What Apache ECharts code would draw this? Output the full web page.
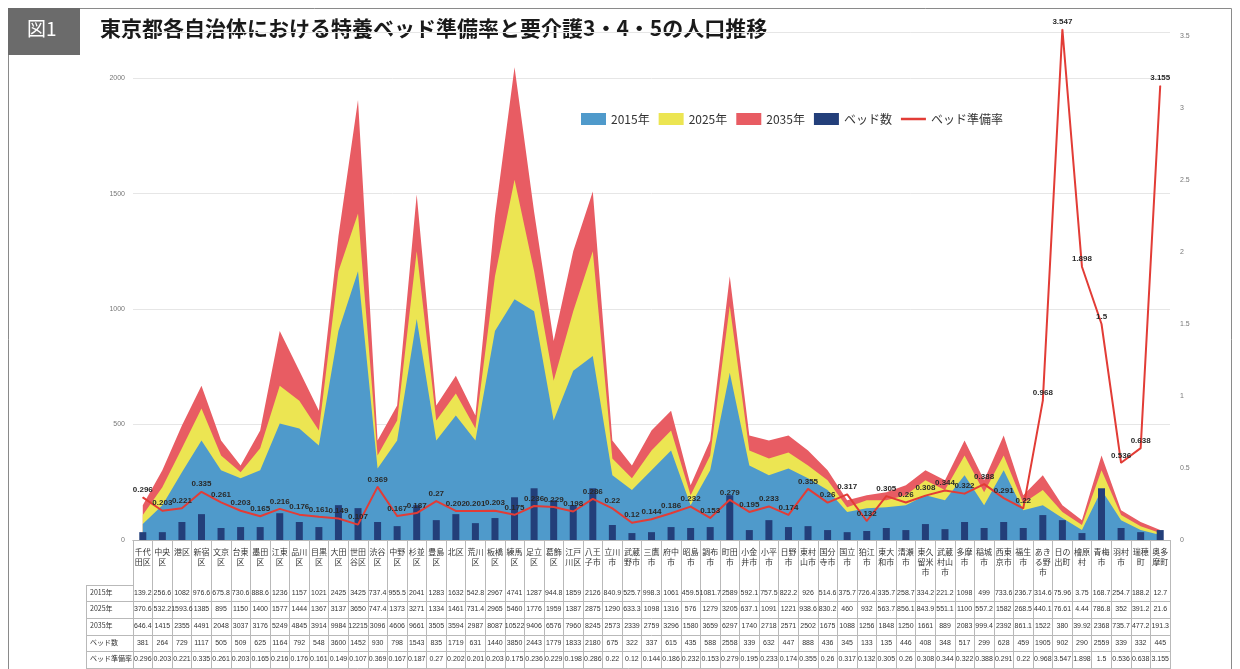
<!DOCTYPE html>
<html>
<head>
<meta charset="utf-8">
<script src="https://cdn.jsdelivr.net/npm/echarts@6/dist/echarts.min.js"></script>
<style>
  html, body { margin: 0; padding: 0; background: #fff; }
  #chart { width: 1240px; height: 669px; }
</style>
</head>
<body>
<div id="chart"></div>
<script>
const names = ['千代田区', '中央区', '港区', '新宿区', '文京区', '台東区', '墨田区', '江東区', '品川区', '目黒区',
  '大田区', '世田谷区', '渋谷区', '中野区', '杉並区', '豊島区', '北区', '荒川区', '板橋区', '練馬区',
  '足立区', '葛飾区', '江戸川区', '八王子市', '立川市', '武蔵野市', '三鷹市', '府中市', '昭島市', '調布市',
  '町田市', '小金井市', '小平市', '日野市', '東村山市', '国分寺市', '国立市', '狛江市', '東大和市', '清瀬市',
  '東久留米市', '武蔵村山市', '多摩市', '稲城市', '西東京市', '福生市', 'あきる野市', '日の出町', '檜原村', '青梅市',
  '羽村市', '瑞穂町', '奥多摩町'];

// plotted values (left axis)
const pop2015 = [69, 151, 293, 431, 302, 267, 302, 504, 483, 409,
  905, 1164, 310, 431, 957, 431, 539, 431, 905, 1043,
  991, 517, 733, 797, 280, 216, 302, 388, 151, 302,
  724, 323, 280, 310, 267, 216, 121, 138, 142, 151,
  194, 172, 280, 151, 302, 129, 151, 95, 43, 216,
  86, 43, 22];
const pop2025 = [108, 228, 397, 569, 366, 293, 397, 668, 603, 474,
  1164, 1414, 366, 517, 1250, 517, 634, 483, 1142, 1560,
  1164, 690, 991, 1250, 353, 267, 388, 474, 194, 366,
  1013, 388, 353, 379, 323, 259, 142, 172, 172, 194,
  259, 216, 366, 207, 366, 159, 216, 121, 65, 302,
  108, 60, 30];
const pop2035 = [151, 302, 496, 668, 431, 323, 474, 905, 733, 560,
  1315, 1905, 431, 582, 1496, 582, 711, 539, 1401, 2047,
  1422, 862, 1250, 1509, 431, 323, 474, 560, 237, 431,
  1142, 453, 431, 453, 388, 302, 172, 194, 207, 237,
  302, 259, 431, 259, 453, 194, 280, 151, 86, 366,
  129, 78, 43];
const beds = [34, 34, 78, 112, 52, 56, 56, 116, 78, 56,
  151, 138, 78, 60, 151, 86, 112, 73, 95, 185,
  224, 172, 151, 224, 65, 30, 34, 56, 52, 56,
  194, 43, 86, 56, 60, 43, 34, 39, 52, 43,
  69, 47, 78, 52, 78, 52, 108, 86, 30, 224,
  52, 34, 43];
const ratio = [0.296, 0.203, 0.221, 0.335, 0.261, 0.203, 0.165, 0.216, 0.176, 0.161,
  0.149, 0.107, 0.369, 0.167, 0.187, 0.270, 0.202, 0.201, 0.203, 0.175,
  0.236, 0.229, 0.198, 0.286, 0.22, 0.12, 0.144, 0.186, 0.232, 0.153,
  0.279, 0.195, 0.233, 0.174, 0.355, 0.26, 0.317, 0.132, 0.305, 0.26,
  0.308, 0.344, 0.322, 0.388, 0.291, 0.22, 0.968, 3.547, 1.898, 1.5,
  0.536, 0.638, 3.155];

// table rows (as printed under the chart)
const table2015 = [139.2, 256.6, 1082, 976.6, 675.8, 730.6, 888.6, 1236, 1157, 1021,
  2425, 3425, 737.4, 955.5, 2041, 1283, 1632, 542.8, 2967, 4741,
  1287, 944.8, 1859, 2126, 840.9, 525.7, 998.3, 1061, 459.5, 1081.7,
  2589, 592.1, 757.5, 822.2, 926, 514.6, 375.7, 726.4, 335.7, 258.7,
  334.2, 221.2, 1098, 499, 733.6, 236.7, 314.6, 75.96, 3.75, 168.7,
  254.7, 188.2, 12.7];
const table2025 = [370.6, 532.2, 1593.6, 1385, 895, 1150, 1400, 1577, 1444, 1367,
  3137, 3650, 747.4, 1373, 3271, 1334, 1461, 731.4, 2965, 5460,
  1776, 1959, 1387, 2875, 1290, 633.3, 1098, 1316, 576, 1279,
  3205, 637.1, 1091, 1221, 938.6, 830.2, 460, 932, 563.7, 856.1,
  843.9, 551.1, 1100, 557.2, 1582, 268.5, 440.1, 76.61, 4.44, 786.8,
  352, 391.2, 21.6];
const table2035 = [646.4, 1415, 2355, 4491, 2048, 3037, 3176, 5249, 4845, 3914,
  9984, 12215, 3096, 4606, 9661, 3505, 3594, 2987, 8087, 10522,
  9406, 6576, 7960, 8245, 2573, 2339, 2759, 3296, 1580, 3659,
  6297, 1740, 2718, 2571, 2502, 1675, 1088, 1256, 1848, 1250,
  1661, 889, 2083, 999.4, 2392, 861.1, 1522, 380, 39.92, 2368,
  735.7, 477.2, 191.3];
const tableBeds = [381, 264, 729, 1117, 505, 509, 625, 1164, 792, 548,
  3600, 1452, 930, 798, 1543, 835, 1719, 631, 1440, 3850,
  2443, 1779, 1833, 2180, 675, 322, 337, 615, 435, 588,
  2558, 339, 632, 447, 888, 436, 345, 133, 135, 446,
  408, 348, 517, 299, 628, 459, 1905, 902, 290, 2559,
  339, 332, 445];

const rowLabels = ['2015年', '2025年', '2035年', 'ベッド数', 'ベッド準備率'];
const tableRows = [table2015, table2025, table2035, tableBeds, ratio];

const chart = echarts.init(document.getElementById('chart'));

const tableFont = '"Liberation Sans Narrow", "Liberation Sans", sans-serif';
const jpFont = '"Noto Sans CJK JP", sans-serif';
const lineColor = '#b9b9b9';

function wrapName(name) {
  if (name.length <= 2) {
    return name;
  }
  const parts = [];
  for (let i = 0; i < name.length; i += 2) {
    parts.push(name.slice(i, i + 2));
  }
  return parts.join('\n');
}

const rowOffsets = [45, 61, 78, 95, 111];
const tableAxes = tableRows.map((row, rowIndex) => ({
  type: 'category',
  gridIndex: 0,
  position: 'bottom',
  offset: rowOffsets[rowIndex],
  data: names,
  axisLine: { show: true, lineStyle: { color: lineColor } },
  axisTick: { show: false },
  axisLabel: {
    interval: 0,
    margin: 5,
    fontSize: 7,
    fontFamily: tableFont,
    color: '#333',
    formatter: (value, index) => String(row[index])
  }
}));

const rowGraphics = [];
rowLabels.forEach((label, i) => {
  rowGraphics.push({
    type: 'text',
    left: 90,
    top: 540 + rowOffsets[i] + 4,
    style: { text: label, fontSize: 7, fill: '#333', fontFamily: jpFont }
  });
});
[585, 601, 618, 635, 651].forEach((y) => {
  rowGraphics.push({
    type: 'line',
    shape: { x1: 86, y1: y + 0.5, x2: 133, y2: y + 0.5 },
    style: { stroke: lineColor, lineWidth: 1 }
  });
});
rowGraphics.push({
  type: 'line',
  shape: { x1: 86.5, y1: 585, x2: 86.5, y2: 668 },
  style: { stroke: lineColor, lineWidth: 1 }
});
rowGraphics.push({
  type: 'line',
  shape: { x1: 86, y1: 668.5, x2: 1171, y2: 668.5 },
  style: { stroke: lineColor, lineWidth: 1 }
});

chart.setOption({
  animation: false,
  backgroundColor: '#fff',
  graphic: [
    {
      type: 'rect',
      shape: { x: 8.5, y: 8.5, width: 1223, height: 700 },
      style: { fill: 'none', stroke: '#8a8a8a', lineWidth: 1 }
    },
    {
      type: 'rect',
      shape: { x: 8, y: 8, width: 72, height: 47 },
      style: { fill: '#6b6b6b' }
    },
    {
      type: 'text',
      left: 27,
      top: 19,
      style: { text: '図1', fontSize: 19, fill: '#fff', fontFamily: jpFont }
    },
    {
      type: 'text',
      left: 100,
      top: 18,
      style: {
        text: '東京都各自治体における特養ベッド準備率と要介護3・4・5の人口推移',
        fontSize: 21,
        fontWeight: 'bold',
        fill: '#1a1a1a',
        fontFamily: jpFont
      }
    },
    ...rowGraphics
  ],
  legend: {
    top: 108,
    left: 576,
    itemWidth: 25,
    itemHeight: 12,
    itemGap: 9,
    textStyle: { fontSize: 12, color: '#333', fontFamily: jpFont },
    data: [
      { name: '2015年', icon: 'rect' },
      { name: '2025年', icon: 'rect' },
      { name: '2035年', icon: 'rect' },
      { name: 'ベッド数', icon: 'rect' },
      { name: 'ベッド準備率', icon: 'path://M0,0H0.01V0.01H0Z M0,5H30V8H0Z M0,13H0.01V13.01H0Z' }
    ]
  },
  grid: { left: 133, right: 70, top: 32, bottom: 129 },
  xAxis: [
    {
      type: 'category',
      data: names,
      boundaryGap: true,
      axisLine: { show: true, lineStyle: { color: lineColor } },
      axisTick: { show: true, interval: 0, length: 128, lineStyle: { color: lineColor } },
      axisLabel: {
        interval: 0,
        margin: 7,
        fontSize: 8,
        lineHeight: 10,
        color: '#333',
        fontFamily: jpFont,
        formatter: (value) => wrapName(value)
      }
    },
    ...tableAxes
  ],
  yAxis: [
    {
      type: 'value',
      min: 0,
      max: 2200,
      interval: 500,
      axisLine: { show: false },
      axisTick: { show: false },
      splitLine: { show: true, lineStyle: { color: '#e6e6e6' } },
      axisLabel: {
        fontSize: 7,
        color: '#777',
        margin: 8,
        showMaxLabel: false,
        formatter: (value) => String(value)
      }
    },
    {
      type: 'value',
      min: 0,
      max: 3.528,
      interval: 0.5,
      axisLine: { show: false },
      axisTick: { show: false },
      splitLine: { show: false },
      axisLabel: {
        fontSize: 7,
        color: '#777',
        margin: 10,
        showMaxLabel: false,
        formatter: (value) => String(value)
      }
    }
  ],
  series: [
    {
      name: '2035年',
      type: 'line',
      data: pop2035,
      symbol: 'none',
      lineStyle: { width: 0 },
      itemStyle: { color: '#e85c63' },
      areaStyle: { color: '#e85c63', opacity: 1 },
      z: 1
    },
    {
      name: '2025年',
      type: 'line',
      data: pop2025,
      symbol: 'none',
      lineStyle: { width: 0 },
      itemStyle: { color: '#ece552' },
      areaStyle: { color: '#ece552', opacity: 1 },
      z: 2
    },
    {
      name: '2015年',
      type: 'line',
      data: pop2015,
      symbol: 'none',
      lineStyle: { width: 0 },
      itemStyle: { color: '#4f9acb' },
      areaStyle: { color: '#4f9acb', opacity: 1 },
      z: 3
    },
    {
      name: 'ベッド数',
      type: 'bar',
      data: beds,
      barWidth: 7,
      itemStyle: { color: '#233f7a' },
      z: 4
    },
    {
      name: 'ベッド準備率',
      type: 'line',
      yAxisIndex: 1,
      data: ratio,
      clip: false,
      symbol: 'circle',
      symbolSize: 1,
      itemStyle: { color: '#e23c36' },
      lineStyle: { width: 2, color: '#e23c36' },
      label: {
        show: true,
        position: 'top',
        distance: 3,
        fontSize: 8,
        fontWeight: 'bold',
        color: '#2a2a2a',
        fontFamily: tableFont
      },
      z: 5
    }
  ]
});
</script>
</body>
</html>
